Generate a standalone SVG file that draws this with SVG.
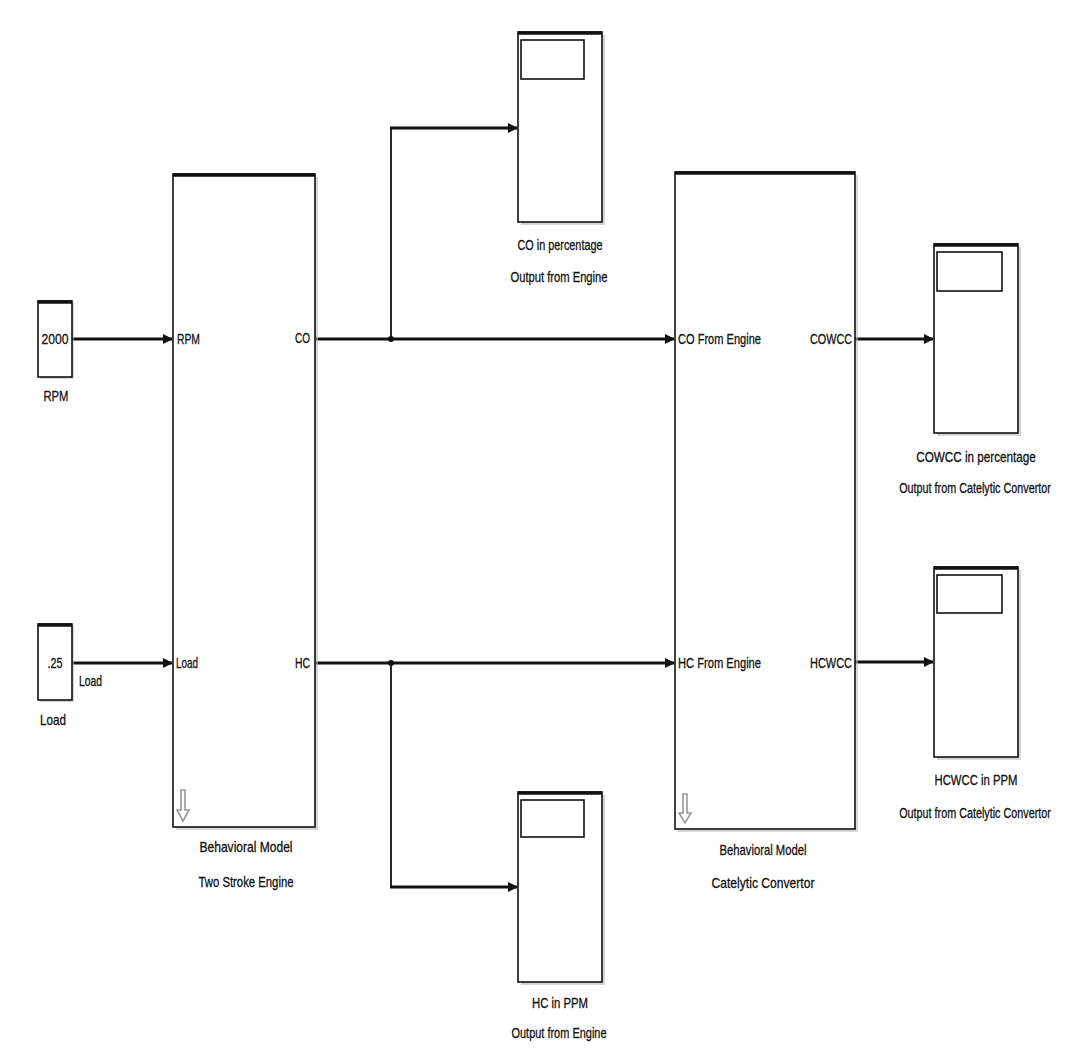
<svg xmlns="http://www.w3.org/2000/svg" width="1067" height="1055" viewBox="0 0 1067 1055">
<style>
text{font-family:"Liberation Sans",Arial,sans-serif;font-size:15px;fill:#111;stroke:#111;stroke-width:0.3;}
.blk{fill:#fff;stroke:#111;stroke-width:1.6;}
.shadow{fill:#bbb;opacity:0.6;}
.top{stroke:#111;stroke-width:3.5;}
.sig{fill:none;stroke:#111;stroke-width:3;}
.br{fill:none;stroke:#111;stroke-width:1.8;}
.icon{fill:none;stroke:#999;stroke-width:1.6;}
.mid{text-anchor:middle;}
.end{text-anchor:end;}
</style>
<defs>
<marker id="ah" markerWidth="10" markerHeight="10" refX="9" refY="5" orient="auto" markerUnits="userSpaceOnUse">
<path d="M0,0 L10,5 L0,10 Z" fill="#111"/>
</marker>
</defs>
<rect width="1067" height="1055" fill="#fff"/>

<g id="connectors">
<path class="sig" d="M72,339 H172" marker-end="url(#ah)"/>
<path class="sig" d="M72,663 H172" marker-end="url(#ah)"/>
<path class="sig" d="M315,339 H674" marker-end="url(#ah)"/>
<path class="sig" d="M315,663 H674" marker-end="url(#ah)"/>
<path class="br" d="M391,339 V128"/>
<path class="sig" d="M390,128 H517" marker-end="url(#ah)"/>
<path class="br" d="M391,663 V887"/>
<path class="sig" d="M390,887 H517" marker-end="url(#ah)"/>
<path class="sig" d="M855,339 H933" marker-end="url(#ah)"/>
<path class="sig" d="M855,662 H933" marker-end="url(#ah)"/>
<circle cx="391" cy="339" r="3" fill="#111"/>
<circle cx="391" cy="663" r="3" fill="#111"/>
<text x="79" y="686" textLength="23" lengthAdjust="spacingAndGlyphs">Load</text>
</g>

<g id="const-rpm">
<rect class="shadow" x="40" y="303" width="34" height="76"/>
<rect class="blk" x="38" y="301" width="34" height="76"/>
<line class="top" x1="38" y1="302" x2="72" y2="302"/>
<text class="mid" x="55" y="344" textLength="27" lengthAdjust="spacingAndGlyphs">2000</text>
<text class="mid" x="56" y="401" textLength="25" lengthAdjust="spacingAndGlyphs">RPM</text>
</g>

<g id="const-load">
<rect class="shadow" x="40" y="626" width="34" height="76"/>
<rect class="blk" x="38" y="624" width="34" height="76"/>
<line class="top" x1="38" y1="625" x2="72" y2="625"/>
<text class="mid" x="55" y="668" textLength="15" lengthAdjust="spacingAndGlyphs">.25</text>
<text class="mid" x="53" y="725" textLength="26" lengthAdjust="spacingAndGlyphs">Load</text>
</g>

<g id="engine">
<rect class="shadow" x="176" y="177" width="142" height="653"/>
<rect class="blk" x="173" y="174" width="142" height="653"/>
<line class="top" x1="173" y1="175" x2="315" y2="175"/>
<text x="177" y="344" textLength="23" lengthAdjust="spacingAndGlyphs">RPM</text>
<text x="176" y="668" textLength="22" lengthAdjust="spacingAndGlyphs">Load</text>
<text class="end" x="310" y="343" textLength="15" lengthAdjust="spacingAndGlyphs">CO</text>
<text class="end" x="310" y="668" textLength="15" lengthAdjust="spacingAndGlyphs">HC</text>
<path class="icon" d="M181,790 H185 V810 H189 L183,821 L177,810 H181 Z"/>
<text class="mid" x="246" y="852" textLength="93" lengthAdjust="spacingAndGlyphs">Behavioral Model</text>
<text class="mid" x="246" y="887" textLength="95" lengthAdjust="spacingAndGlyphs">Two Stroke Engine</text>
</g>

<g id="catalytic">
<rect class="shadow" x="678" y="175" width="180" height="657"/>
<rect class="blk" x="675" y="172" width="180" height="657"/>
<line class="top" x1="675" y1="173" x2="855" y2="173"/>
<text x="678" y="344" textLength="83" lengthAdjust="spacingAndGlyphs">CO From  Engine</text>
<text class="end" x="852" y="344" textLength="42" lengthAdjust="spacingAndGlyphs">COWCC</text>
<text x="678" y="668" textLength="83" lengthAdjust="spacingAndGlyphs">HC From  Engine</text>
<text class="end" x="852" y="668" textLength="42" lengthAdjust="spacingAndGlyphs">HCWCC</text>
<path class="icon" d="M683,794 H687 V813 H691 L685,823 L679,813 H683 Z"/>
<text class="mid" x="763" y="855" textLength="87" lengthAdjust="spacingAndGlyphs">Behavioral Model</text>
<text class="mid" x="763" y="888" textLength="103" lengthAdjust="spacingAndGlyphs">Catelytic Convertor</text>
</g>

<g id="scope-co">
<rect class="shadow" x="521" y="35" width="84" height="190"/>
<rect class="blk" x="518" y="32" width="84" height="190"/>
<line class="top" x1="518" y1="33" x2="602" y2="33"/>
<rect class="blk" x="521" y="40" width="63" height="39" stroke-width="2.2"/>
<text class="mid" x="560" y="250" textLength="85" lengthAdjust="spacingAndGlyphs">CO in percentage</text>
<text class="mid" x="559" y="282" textLength="97" lengthAdjust="spacingAndGlyphs">Output from Engine</text>
</g>

<g id="scope-hc">
<rect class="shadow" x="521" y="795" width="84" height="190"/>
<rect class="blk" x="518" y="792" width="84" height="190"/>
<line class="top" x1="518" y1="793" x2="602" y2="793"/>
<rect class="blk" x="521" y="800" width="63" height="37" stroke-width="2.2"/>
<text class="mid" x="560" y="1008" textLength="56" lengthAdjust="spacingAndGlyphs">HC in PPM</text>
<text class="mid" x="559" y="1038" textLength="95" lengthAdjust="spacingAndGlyphs">Output from Engine</text>
</g>

<g id="scope-cowcc">
<rect class="shadow" x="937" y="247" width="84" height="189"/>
<rect class="blk" x="934" y="244" width="84" height="189"/>
<line class="top" x1="934" y1="245" x2="1018" y2="245"/>
<rect class="blk" x="937" y="252" width="65" height="39" stroke-width="2.2"/>
<text class="mid" transform="translate(976,462) scale(0.78,1)" x="0" y="0">COWCC in percentage</text>
<text class="mid" transform="translate(975,493) scale(0.72,1)" x="0" y="0">Output from Catelytic Convertor</text>
</g>

<g id="scope-hcwcc">
<rect class="shadow" x="937" y="570" width="84" height="190"/>
<rect class="blk" x="934" y="567" width="84" height="190"/>
<line class="top" x1="934" y1="568" x2="1018" y2="568"/>
<rect class="blk" x="937" y="575" width="65" height="38" stroke-width="2.2"/>
<text class="mid" x="976" y="785" textLength="83" lengthAdjust="spacingAndGlyphs">HCWCC in PPM</text>
<text class="mid" transform="translate(975,818) scale(0.72,1)" x="0" y="0">Output from Catelytic Convertor</text>
</g>
</svg>
